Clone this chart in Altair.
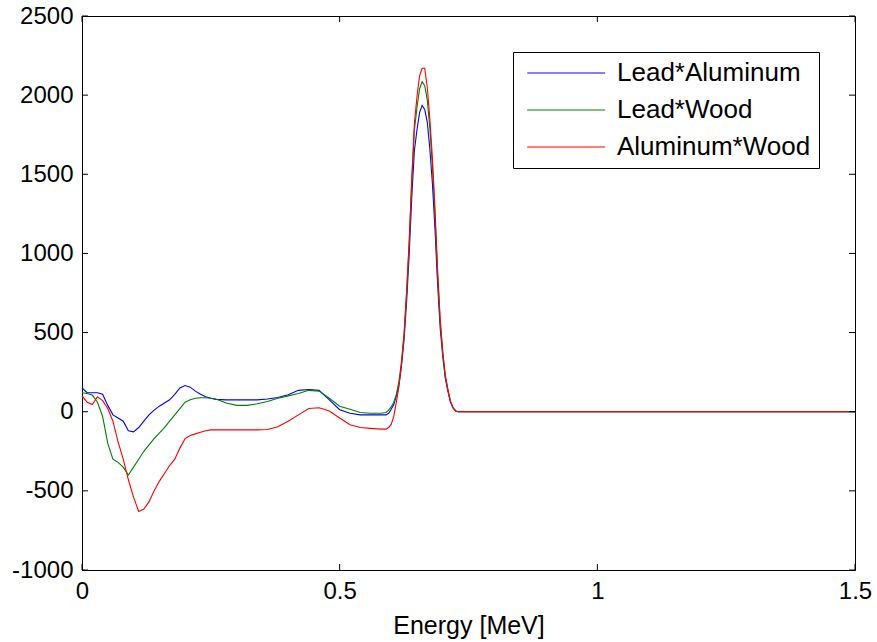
import altair as alt
import pandas as pd

# ---- data ----
energy = [0, 0.01, 0.02, 0.03, 0.04, 0.05, 0.06, 0.07, 0.08, 0.09, 0.10, 0.11, 0.12,
          0.13, 0.14, 0.15, 0.16, 0.17, 0.18, 0.19, 0.20, 0.21, 0.22, 0.23, 0.24, 0.25,
          0.26, 0.28, 0.30, 0.32, 0.34, 0.36, 0.38, 0.40, 0.42, 0.44, 0.46, 0.48, 0.50,
          0.52, 0.54, 0.56, 0.58, 0.59, 0.595, 0.60, 0.605, 0.61, 0.615, 0.62, 0.625,
          0.63, 0.635, 0.64, 0.645, 0.65, 0.655, 0.66, 0.665, 0.67, 0.675, 0.68, 0.685,
          0.69, 0.695, 0.70, 0.705, 0.71, 0.715, 0.72, 0.725, 0.73, 0.8, 1.0, 1.2, 1.5]

lead_aluminum = [150, 120, 120, 120, 110, 40, -20, -40, -60, -120, -127, -100, -60,
                 -20, 10, 35, 55, 75, 110, 150, 165, 155, 130, 110, 95, 85,
                 78, 75, 75, 75, 75, 80, 90, 107, 135, 140, 135, 75, 13,
                 -10, -20, -20, -20, -20, -10, 15, 45, 100, 170, 290, 456,
                 700, 1000, 1360, 1650, 1780, 1890, 1935, 1910, 1830, 1660, 1440, 1150,
                 810, 530, 350, 210, 130, 60, 25, 5, 0, 0, 0, 0, 0]

lead_wood = [120, 115, 105, 60, -30, -200, -300, -320, -350, -400, -350, -300, -250,
             -210, -170, -135, -100, -60, -20, 20, 60, 75, 85, 88, 88, 85,
             80, 55, 40, 40, 50, 65, 85, 100, 115, 135, 130, 85, 35,
             15, -5, -10, -10, -5, 10, 30, 60, 110, 190, 320, 490,
             760, 1080, 1460, 1780, 1920, 2040, 2085, 2060, 1970, 1790, 1550, 1240,
             870, 570, 370, 225, 140, 65, 25, 5, 0, 0, 0, 0, 0]

aluminum_wood = [100, 60, 45, 95, 70, 20, -60, -190, -300, -430, -540, -630, -615,
                 -570, -500, -440, -390, -340, -300, -230, -170, -150, -140, -130, -120, -115,
                 -115, -115, -115, -115, -115, -112, -95, -60, -20, 20, 25, 5, -40,
                 -82, -100, -105, -110, -110, -100, -80, -30, 60, 160, 300, 490,
                 760, 1080, 1480, 1820, 1990, 2120, 2170, 2170, 2050, 1850, 1600, 1280,
                 900, 590, 380, 230, 140, 65, 25, 5, 0, 0, 0, 0, 0]

series_names = ["Lead*Aluminum", "Lead*Wood", "Aluminum*Wood"]
series_colors = ["#0000ff", "#008000", "#ff0000"]
x_ticks = [0, 0.5, 1, 1.5]
y_ticks = [-1000, -500, 0, 500, 1000, 1500, 2000, 2500]

FONT = "Liberation Sans"
W, H = 773, 554

frames = []
for name, vals in zip(series_names, [lead_aluminum, lead_wood, aluminum_wood]):
    frames.append(pd.DataFrame({"energy": energy, "value": vals, "series": name}))
df = pd.concat(frames, ignore_index=True)

xscale = alt.Scale(domain=[0, 1.5], nice=False, zero=False)
yscale = alt.Scale(domain=[-1000, 2500], nice=False, zero=False)

x_axis = alt.Axis(values=x_ticks, labelExpr="'' + datum.value",
                  title="Energy [MeV]", grid=False, tickSize=0, labelFlush=False,
                  labelFontSize=24, labelFont=FONT, labelColor="black",
                  labelPadding=9, titleFontSize=25, titleFont=FONT,
                  titleFontWeight="normal", titleColor="black",
                  titlePadding=10, domainColor="black", domainWidth=1)
y_axis = alt.Axis(values=y_ticks, labelExpr="'' + datum.value",
                  title=None, grid=False, tickSize=0, labelFlush=False,
                  labelFontSize=24, labelFont=FONT, labelColor="black",
                  labelPadding=9, domainColor="black", domainWidth=1)

color = alt.Color(
    "series:N",
    scale=alt.Scale(domain=series_names, range=series_colors),
    sort=series_names,
    legend=alt.Legend(
        title=None, orient="none", legendX=431, legendY=36,
        symbolType="M-1,0H9", symbolSize=243, symbolStrokeWidth=1.2,
        symbolOffset=1,
        labelFontSize=26, labelFont=FONT, labelColor="black", labelOffset=69,
        rowPadding=11, padding=8, strokeColor="black", fillColor="white",
        labelLimit=400,
    ),
)

lines = alt.Chart(df).mark_line(strokeWidth=1.1, interpolate="linear").encode(
    x=alt.X("energy:Q", scale=xscale, axis=x_axis, title="Energy [MeV]"),
    y=alt.Y("value:Q", scale=yscale, axis=y_axis, title=None),
    color=color,
)

ytick_df = pd.DataFrame({"v": y_ticks})
xtick_df = pd.DataFrame({"v": x_ticks})
tick_len = 6

left_ticks = alt.Chart(ytick_df).mark_rule(strokeWidth=1).encode(
    y=alt.Y("v:Q", scale=yscale, axis=y_axis, title=None),
    x=alt.value(0), x2=alt.value(tick_len), stroke=alt.value("black"))
right_ticks = alt.Chart(ytick_df).mark_rule(strokeWidth=1).encode(
    y=alt.Y("v:Q", scale=yscale, axis=y_axis, title=None),
    x=alt.value(W - tick_len), x2=alt.value(W), stroke=alt.value("black"))
bottom_ticks = alt.Chart(xtick_df).mark_rule(strokeWidth=1).encode(
    x=alt.X("v:Q", scale=xscale, axis=x_axis, title="Energy [MeV]"),
    y=alt.value(H - tick_len), y2=alt.value(H), stroke=alt.value("black"))
top_ticks = alt.Chart(xtick_df).mark_rule(strokeWidth=1).encode(
    x=alt.X("v:Q", scale=xscale, axis=x_axis, title="Energy [MeV]"),
    y=alt.value(0), y2=alt.value(tick_len), stroke=alt.value("black"))

chart = alt.layer(lines, left_ticks, right_ticks, bottom_ticks, top_ticks).properties(
    width=W, height=H,
    autosize=alt.AutoSizeParams(type="none"),
    padding={"left": 82, "top": 16, "right": 22, "bottom": 72},
    background="white",
).configure_view(stroke="black", strokeWidth=1)

chart.save("out.html", embed_options={"renderer": "svg", "actions": False})
